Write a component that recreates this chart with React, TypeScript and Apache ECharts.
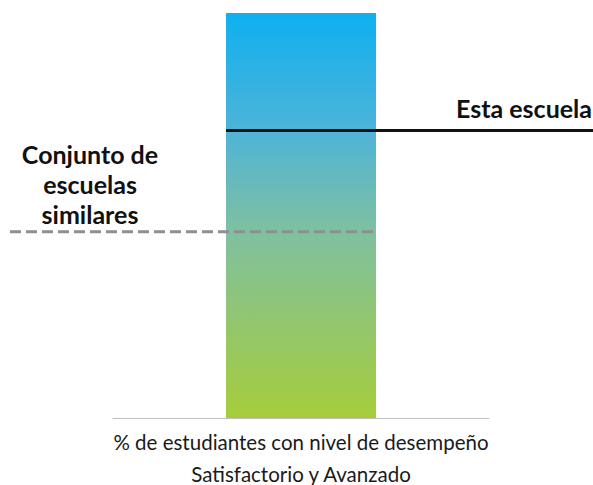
import React, { useEffect, useRef } from "react";
import * as echarts from "echarts";

const categories = ["% de estudiantes con nivel de desempeño\nSatisfactorio y Avanzado"];
const barValues = [100];
const estaEscuelaValue = 71;
const similaresValue = 46;
const estaEscuelaLabel = "Esta escuela";
const similaresLabel = "Conjunto de\nescuelas\nsimilares";

export default function App() {
  const ref = useRef<HTMLDivElement>(null);
  useEffect(() => {
    if (!ref.current) return;
    const chart = echarts.init(ref.current, null, { renderer: "svg" });
    chart.setOption({
      animation: false,
      grid: { left: 113, right: 104, top: 13, bottom: 67, containLabel: false, outerBoundsMode: "none" },
      xAxis: {
        type: "category",
        data: categories,
        axisLine: { lineStyle: { color: "#bfbfbf", width: 1 } },
        axisTick: { length: 7, lineStyle: { color: "#bfbfbf" } },
        axisLabel: {
          margin: 8,
          fontFamily: "Lato",
          fontSize: 20.5,
          lineHeight: 32,
          color: "#1a1a1a",
          align: "center",
        },
      },
      yAxis: { type: "value", min: 0, max: 100, show: false },
      series: [
        {
          type: "bar",
          data: barValues,
          barWidth: 150,
          itemStyle: {
            color: new echarts.graphic.LinearGradient(0, 0, 0, 1, [
              { offset: 0, color: "#0eb0f0" },
              { offset: 0.29, color: "#4eb4d8" },
              { offset: 0.54, color: "#7fc0a0" },
              { offset: 1, color: "#a6cd3b" },
            ]),
          },
        },
      ],
    });
    const yE = chart.convertToPixel({ yAxisIndex: 0 }, estaEscuelaValue) as number;
    const yS = chart.convertToPixel({ yAxisIndex: 0 }, similaresValue) as number;
    const xc = chart.convertToPixel({ xAxisIndex: 0 }, 0) as number;
    const barLeft = xc - 75;
    const barRight = xc + 75;
    chart.setOption({
      graphic: [
        {
          type: "line",
          z: 100,
          shape: { x1: barLeft, y1: yE, x2: 593, y2: yE },
          style: { stroke: "#111", lineWidth: 3 },
        },
        {
          type: "line",
          z: 100,
          shape: { x1: 10, y1: yS, x2: barRight + 2, y2: yS },
          style: { stroke: "#8f8f8f", lineWidth: 3, lineDash: [11, 5] },
        },
        {
          type: "text",
          z: 100,
          x: 592,
          y: yE - 22,
          style: {
            text: estaEscuelaLabel,
            align: "right",
            verticalAlign: "middle",
            fontFamily: "Lato",
            fontWeight: "bold",
            fontSize: 25,
            fill: "#111",
          },
        },
        {
          type: "text",
          z: 100,
          x: 90,
          y: yS - 48,
          style: {
            text: similaresLabel,
            align: "center",
            verticalAlign: "middle",
            fontFamily: "Lato",
            fontWeight: "bold",
            fontSize: 25,
            lineHeight: 30,
            fill: "#111",
          },
        },
      ],
    });
    return () => chart.dispose();
  }, []);
  return (
    <div
      ref={ref}
      style={{ position: "absolute", left: 0, top: 0, width: 593, height: 485 }}
    />
  );
}
